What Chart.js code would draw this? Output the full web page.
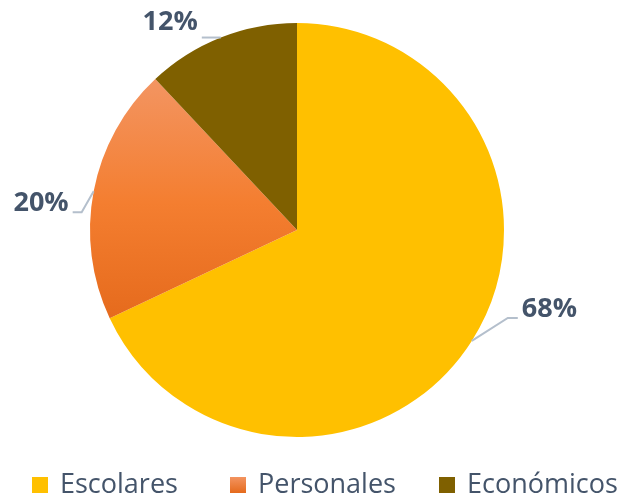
<!DOCTYPE html>
<html>
<head>
<meta charset="utf-8">
<script src="https://cdn.jsdelivr.net/npm/chart.js@4/dist/chart.umd.min.js"></script>
<style>
    html, body { margin: 0; padding: 0; background: #fff; }
    #wrap { width: 623px; height: 499px; }
</style>
</head>
<body>
<div id="wrap"><canvas id="pieChart" width="623" height="499"></canvas></div>
<script>
    'use strict';

    const categories = ['Escolares', 'Personales', 'Económicos'];
    const percentages = [68, 20, 12];
    const labelTexts = ['68%', '20%', '12%'];

    const textColor = '#44546A';
    const leaderColor = '#B4BFCC';

    // orange slice has a vertical gradient, like the original
    function sliceColor(index, ctx, area) {
        if (index === 0) return '#FFC000';
        if (index === 2) return '#7F6000';
        const g = ctx.createLinearGradient(0, area.top + 60, 0, area.top + 300);
        g.addColorStop(0, '#F39460');
        g.addColorStop(0.5, '#F47E30');
        g.addColorStop(1, '#E56A1C');
        return g;
    }

    // leader line offsets from the arc midpoint: elbow, then end of the horizontal tail
    const leaders = [
        { elbow: [36, -23], tail: 10, align: 'left', dy: -9 },
        { elbow: [-12, 21], tail: -9, align: 'right', dy: -9 },
        { elbow: [-4, 0], tail: -15, align: 'right', dy: -15 }
    ];

    const labelPlugin = {
        id: 'outsideLabels',
        afterDatasetsDraw(chart) {
            const ctx = chart.ctx;
            const meta = chart.getDatasetMeta(0);
            ctx.save();
            meta.data.forEach(function(arc, i) {
                const p = arc.getProps(['x', 'y', 'startAngle', 'endAngle', 'outerRadius'], true);
                const mid = (p.startAngle + p.endAngle) / 2;
                const ex = p.x + Math.cos(mid) * p.outerRadius;
                const ey = p.y + Math.sin(mid) * p.outerRadius;
                const l = leaders[i];
                const bx = ex + l.elbow[0];
                const by = ey + l.elbow[1];
                const tx = bx + l.tail;
                ctx.strokeStyle = leaderColor;
                ctx.lineWidth = 2;
                ctx.beginPath();
                ctx.moveTo(ex, ey);
                ctx.lineTo(bx, by);
                ctx.lineTo(tx, by);
                ctx.stroke();
                ctx.fillStyle = textColor;
                ctx.font = 'bold 27px "Open Sans"';
                ctx.textBaseline = 'middle';
                ctx.textAlign = l.align;
                ctx.fillText(labelTexts[i], tx + (l.align === 'left' ? 4 : -4), by + l.dy);
            });
            ctx.restore();
        }
    };

    // legend drawn by hand so the spacing follows the original
    const legendX = [32, 230, 439];
    const legendPlugin = {
        id: 'bottomLegend',
        afterDraw(chart) {
            const ctx = chart.ctx;
            ctx.save();
            categories.forEach(function(name, i) {
                const x = legendX[i];
                const y = 477;
                if (i === 1) {
                    const g = ctx.createLinearGradient(0, y, 0, y + 16);
                    g.addColorStop(0, '#F39460');
                    g.addColorStop(1, '#E56A1C');
                    ctx.fillStyle = g;
                } else {
                    ctx.fillStyle = sliceColor(i, ctx, chart.chartArea);
                }
                ctx.fillRect(x, y, 16, 16);
                ctx.fillStyle = textColor;
                ctx.font = '27px "Open Sans"';
                ctx.textAlign = 'left';
                ctx.textBaseline = 'middle';
                ctx.fillText(name, x + 28, y + 8);
            });
            ctx.restore();
        }
    };

    new Chart(document.getElementById('pieChart'), {
        type: 'pie',
        data: {
            labels: categories,
            datasets: [{
                data: percentages,
                backgroundColor: function(context) {
                    const area = context.chart.chartArea;
                    if (!area) return '#F47E30';
                    return sliceColor(context.dataIndex, context.chart.ctx, area);
                },
                borderWidth: 0
            }]
        },
        options: {
            responsive: false,
            animation: false,
            layout: {
                padding: { top: 23, bottom: 62, left: 90, right: 119 }
            },
            plugins: {
                legend: { display: false },
                tooltip: { enabled: false }
            }
        },
        plugins: [labelPlugin, legendPlugin]
    });
</script>
</body>
</html>
